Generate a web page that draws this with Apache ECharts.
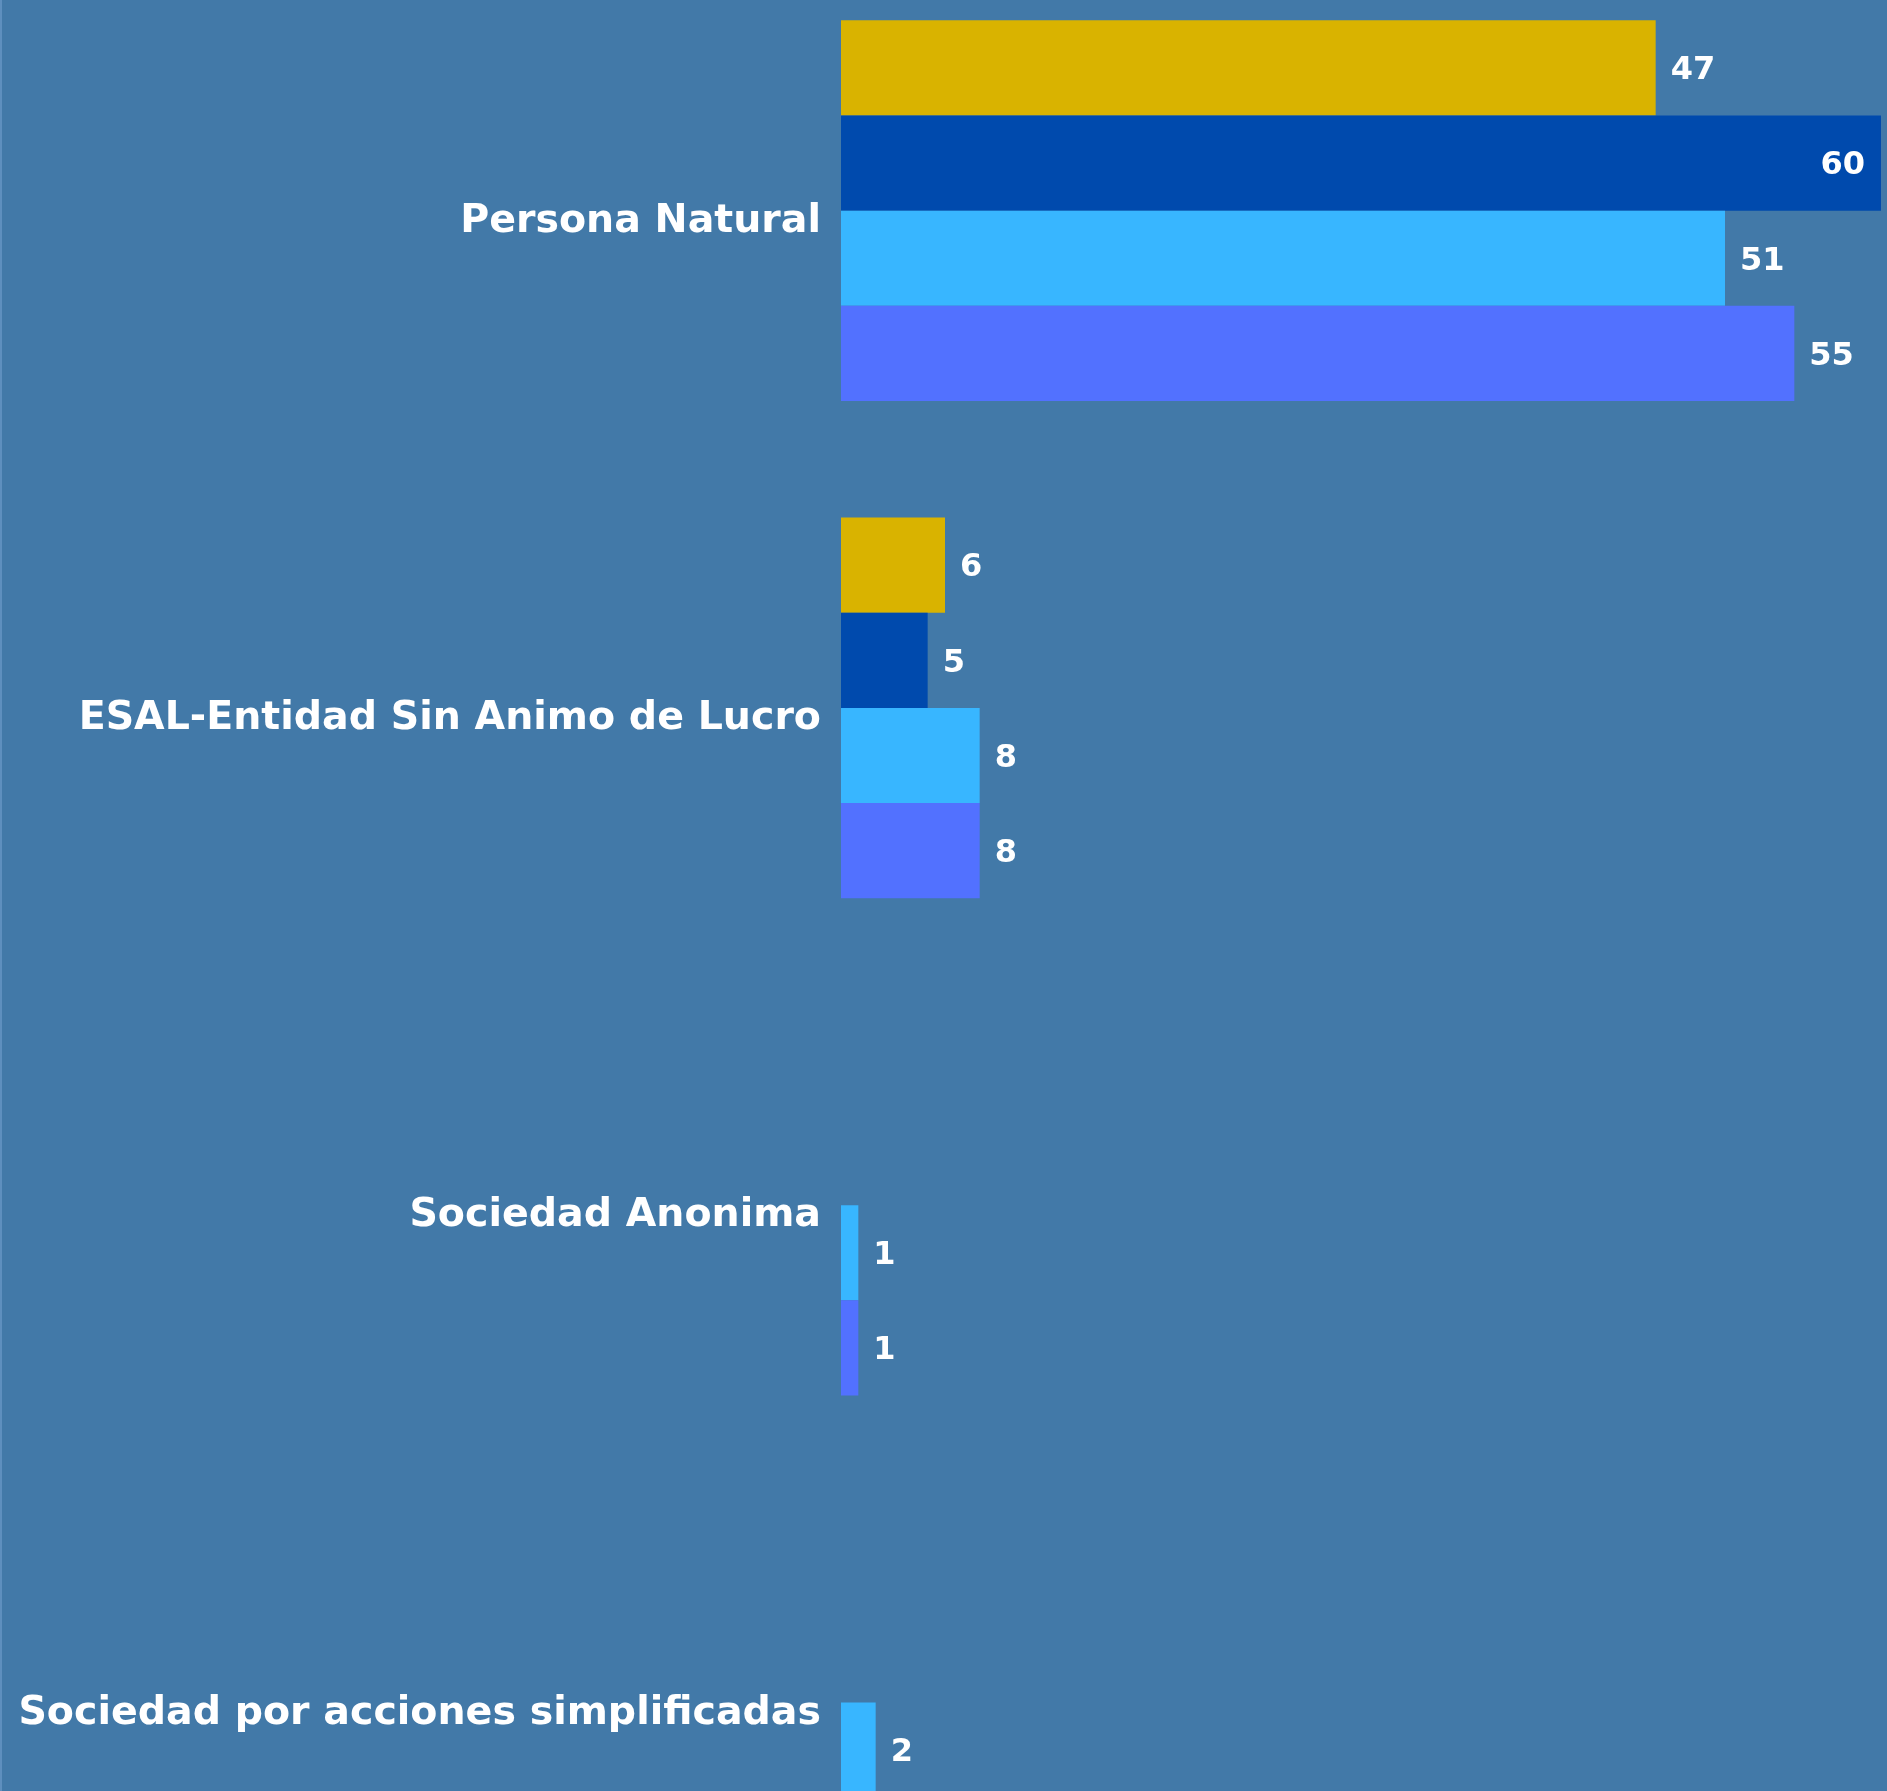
<!DOCTYPE html>
<html>
<head>
<meta charset="utf-8">
<script src="https://cdn.jsdelivr.net/npm/echarts@6/dist/echarts.min.js"></script>
<style>
  html, body { margin: 0; padding: 0; width: 1887px; height: 1791px; overflow: hidden; background: #4279A8; }
  #wrap { position: absolute; left: 0; top: 0; width: 1887px; height: 1791px; overflow: hidden; border-left: 2px solid #5E8FBE; box-sizing: border-box; }
  #chart { position: absolute; left: -2px; top: -38px; width: 1887px; height: 1989px; }
</style>
</head>
<body>
<div id="wrap"><div id="chart"></div></div>
<script>
const categories = [
  'Persona Natural',
  'ESAL-Entidad Sin Animo de Lucro',
  'Sociedad Anonima',
  'Sociedad por acciones simplificadas'
];
const seriesNames = ['Serie 1', 'Serie 2', 'Serie 3', 'Serie 4'];
const serie1 = [47, 6, null, null];
const serie2 = [60, 5, null, null];
const serie3 = [51, 8, 1, 2];
const serie4 = [55, 8, 1, null];
const xMin = 0;
const xMax = 60;

const colors = ['#D9B300', '#004AAD', '#38B6FF', '#5271FF'];
const allSeries = [serie1, serie2, serie3, serie4];

const labelFont = { color: '#FFFFFF', fontFamily: 'DejaVu Sans', fontWeight: 'bold' };

const chart = echarts.init(document.getElementById('chart'), null, { renderer: 'canvas' });
chart.setOption({
  backgroundColor: '#4279A8',
  animation: false,
  grid: { left: 841, right: 6, top: 0, bottom: 0, containLabel: false },
  xAxis: {
    type: 'value', min: xMin, max: xMax, show: false,
    splitLine: { show: false }
  },
  yAxis: {
    type: 'category', data: categories, inverse: true,
    axisLine: { show: false }, axisTick: { show: false }, splitLine: { show: false },
    axisLabel: Object.assign({}, labelFont, { fontSize: 39.5, margin: 20, verticalAlign: 'top', lineHeight: 22 })
  },
  series: allSeries.map((vals, i) => ({
    name: seriesNames[i],
    type: 'bar',
    barGap: 0,
    barCategoryGap: '23.4%',
    itemStyle: { color: colors[i] },
    label: Object.assign({}, labelFont, { show: true, position: 'right', distance: 15, fontSize: 32, offset: [0, 3] }),
    data: vals.map(v => v === null ? null : (v >= xMax
      ? { value: v, label: { position: 'insideRight', distance: 16 } }
      : v))
  }))
});
</script>
</body>
</html>
